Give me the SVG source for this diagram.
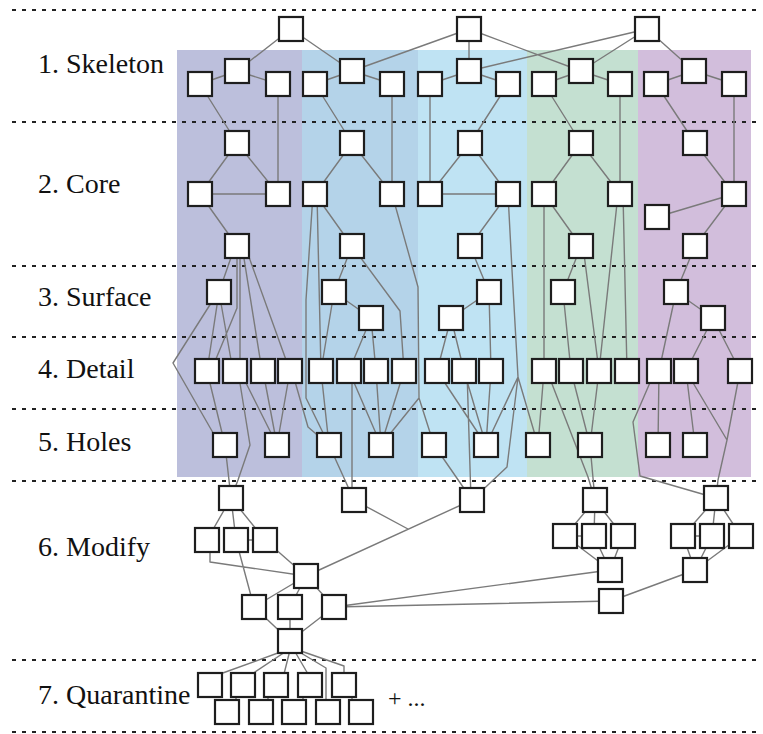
<svg xmlns="http://www.w3.org/2000/svg" width="763" height="734" viewBox="0 0 763 734">
<style>
.dash{stroke:#222;stroke-width:2;stroke-dasharray:4 6;fill:none}
#connectors path{stroke:#7a7a7a;stroke-width:1.4;fill:none;stroke-linejoin:round}
</style>
<defs>
<rect id="bx" x="-12" y="-12" width="24" height="24" fill="#ffffff" stroke="#1e1e1e" stroke-width="2.2"/>
</defs>
<rect width="763" height="734" fill="#fff"/>
<g id="bands">
<rect x="177" y="50" width="125" height="427" fill="#bcbfdc"/>
<rect x="302" y="50" width="116" height="427" fill="#b4d3e9"/>
<rect x="418" y="50" width="109" height="427" fill="#bfe3f3"/>
<rect x="527" y="50" width="111" height="427" fill="#c4e0d1"/>
<rect x="638" y="50" width="113" height="427" fill="#d2bedc"/>
</g>
<g id="separators">
<line class="dash" x1="12" y1="10" x2="760" y2="10"/>
<line class="dash" x1="12" y1="122" x2="760" y2="122"/>
<line class="dash" x1="12" y1="266" x2="760" y2="266"/>
<line class="dash" x1="12" y1="337" x2="760" y2="337"/>
<line class="dash" x1="12" y1="409" x2="760" y2="409"/>
<line class="dash" x1="12" y1="481" x2="760" y2="481"/>
<line class="dash" x1="12" y1="660" x2="760" y2="660"/>
<line class="dash" x1="12" y1="732" x2="760" y2="732"/>
</g>
<g id="labels" font-family="'Liberation Serif', 'Times New Roman', serif" font-size="28" fill="#111">
<text x="38" y="73">1. Skeleton</text>
<text x="38" y="193">2. Core</text>
<text x="38" y="306">3. Surface</text>
<text x="38" y="378">4. Detail</text>
<text x="38" y="451">5. Holes</text>
<text x="38" y="556">6. Modify</text>
<text x="38" y="704">7. Quarantine</text>
<text x="388" y="706" font-size="24">+ ...</text>
</g>
<g id="connectors">
<path d="M291,29 L237,71 M291,29 L352,71 M469,29 L352,71 M469,29 L469,71 M469,29 L581,71 M647,29 L469,71 M647,29 L581,71 M647,29 L694,71"/>
<path d="M237,71 L200,84 M237,71 L278,84 M352,71 L315,84 M352,71 L392,84 M469,71 L430,84 M469,71 L508,84 M581,71 L544,84 M581,71 L620,84 M694,71 L656,84 M694,71 L734,84"/>
<path d="M200,84 L237,143 M278,84 L278,194 M315,84 L352,143 M392,84 L392,194 M508,84 L470,143 M430,84 L430,194 M544,84 L581,143 M620,84 L620,194 M656,84 L695,143 M734,84 L734,194"/>
<path d="M237,143 L200,194 M237,143 L278,194 M200,194 L278,194 M200,194 L237,246 M352,143 L315,194 M352,143 L392,194 M315,194 L352,246 M470,143 L430,194 M470,143 L508,194 M430,194 L508,194 M508,194 L470,246 M581,143 L544,194 M581,143 L620,194 M544,194 L581,246 M695,143 L734,194 M734,194 L657,217 M734,194 L695,246"/>
<path d="M235,246 L219,292 M237,246 L237,308 L211,371 M240,246 L240,371 M242,246 L262,371 M245,246 L290,371 M219,292 L207,371 M219,292 L233,371 M213,300 L173,363 L220,445 M207,371 L225,445 M238,371 L250,445 L238,480 L231,498 M240,371 L277,445 M263,371 L277,445 M290,371 L277,445 M292,371 L308,427 L329,445 M225,445 L231,498"/>
<path d="M313,194 L306,300 L306,398 L329,445 M317,194 L321,371 M352,246 L334,292 M352,246 L400,311 L404,371 M334,292 L371,318 M334,292 L321,371 M371,318 L349,371 M371,318 L376,371 M392,194 L418,287 L419,398 L434,445 M419,398 L381,445 M321,371 L329,445 M352,371 L352,500 M349,371 L381,445 M376,371 L381,445 M404,371 L381,445 M329,445 L354,500"/>
<path d="M470,246 L489,292 M489,292 L451,318 M489,292 L491,371 M451,318 L437,371 M451,318 L464,371 M508,194 L512,270 L518,377 L507,467 L472,500 M518,377 L486,445 M518,377 L538,445 M437,371 L486,445 M464,371 L486,445 M467,371 L471,500 M491,371 L486,445 M434,445 L472,500"/>
<path d="M544,194 L544,371 M581,246 L563,292 M583,246 L599,371 M618,194 L599,371 M623,194 L627,371 M563,292 L571,371 M544,371 L538,445 M547,371 L588,477 L595,500 M571,371 L590,445 M599,371 L590,445 M590,445 L595,500"/>
<path d="M695,246 L676,292 M676,292 L713,318 M676,292 L659,371 M713,318 L686,371 M713,318 L740,371 M659,371 L658,445 M655,371 L633,422 L640,476 L716,498 M686,371 L695,445 M686,371 L727,440 L718,480 L716,498 M740,371 L727,440"/>
<path d="M231,498 L207,540 M231,498 L236,540 M231,498 L265,540 M236,540 L265,540 M210,540 L210,562 L306,576 M236,540 L254,607 M265,540 L306,576 M306,576 L254,607 M306,576 L290,607 M306,576 L334,607 M306,576 L472,500 M354,500 L408,529 M254,607 L290,641 M290,607 L290,641 M334,607 L290,641 M334,607 L610,570 M334,607 L611,601"/>
<path d="M595,500 L565,536 M595,500 L594,536 M595,500 L623,536 M565,536 L594,536 M565,536 L610,570 M594,536 L610,570 M623,536 L610,570 M716,498 L683,536 M716,498 L712,536 M716,498 L741,536 M683,536 L712,536 M683,536 L695,570 M712,536 L695,570 M741,536 L695,570 M611,601 L695,570"/>
<path d="M286,650 L220,674 M288,650 L252,674 M290,650 L284,674 M294,650 L308,674 M296,650 L326,668 L326,712 M298,650 L344,666 L344,685 M236,685 L236,712 M268,685 L268,712 M303,685 L303,712 M352,685 L352,712"/>
</g>
<g id="nodes">
<g id="t1"><use href="#bx" x="291" y="29"/></g>
<g id="t2"><use href="#bx" x="469" y="29"/></g>
<g id="t3"><use href="#bx" x="647" y="29"/></g>
<g id="sk1a"><use href="#bx" x="200" y="84"/></g>
<g id="sk1b"><use href="#bx" x="237" y="71"/></g>
<g id="sk1c"><use href="#bx" x="278" y="84"/></g>
<g id="sk2a"><use href="#bx" x="315" y="84"/></g>
<g id="sk2b"><use href="#bx" x="352" y="71"/></g>
<g id="sk2c"><use href="#bx" x="392" y="84"/></g>
<g id="sk3a"><use href="#bx" x="430" y="84"/></g>
<g id="sk3b"><use href="#bx" x="469" y="71"/></g>
<g id="sk3c"><use href="#bx" x="508" y="84"/></g>
<g id="sk4a"><use href="#bx" x="544" y="84"/></g>
<g id="sk4b"><use href="#bx" x="581" y="71"/></g>
<g id="sk4c"><use href="#bx" x="620" y="84"/></g>
<g id="sk5a"><use href="#bx" x="656" y="84"/></g>
<g id="sk5b"><use href="#bx" x="694" y="71"/></g>
<g id="sk5c"><use href="#bx" x="734" y="84"/></g>
<g id="c1t"><use href="#bx" x="237" y="143"/></g>
<g id="c1l"><use href="#bx" x="200" y="194"/></g>
<g id="c1r"><use href="#bx" x="278" y="194"/></g>
<g id="c1b"><use href="#bx" x="237" y="246"/></g>
<g id="c2t"><use href="#bx" x="352" y="143"/></g>
<g id="c2l"><use href="#bx" x="315" y="194"/></g>
<g id="c2r"><use href="#bx" x="392" y="194"/></g>
<g id="c2b"><use href="#bx" x="352" y="246"/></g>
<g id="c3t"><use href="#bx" x="470" y="143"/></g>
<g id="c3l"><use href="#bx" x="430" y="194"/></g>
<g id="c3r"><use href="#bx" x="508" y="194"/></g>
<g id="c3b"><use href="#bx" x="470" y="246"/></g>
<g id="c4t"><use href="#bx" x="581" y="143"/></g>
<g id="c4l"><use href="#bx" x="544" y="194"/></g>
<g id="c4r"><use href="#bx" x="620" y="194"/></g>
<g id="c4b"><use href="#bx" x="581" y="246"/></g>
<g id="c5t"><use href="#bx" x="695" y="143"/></g>
<g id="c5r"><use href="#bx" x="734" y="194"/></g>
<g id="c5l"><use href="#bx" x="657" y="217"/></g>
<g id="c5b"><use href="#bx" x="695" y="246"/></g>
<g id="sa"><use href="#bx" x="219" y="292"/></g>
<g id="sb"><use href="#bx" x="334" y="292"/></g>
<g id="sc"><use href="#bx" x="371" y="318"/></g>
<g id="sd"><use href="#bx" x="451" y="318"/></g>
<g id="se"><use href="#bx" x="489" y="292"/></g>
<g id="sf"><use href="#bx" x="563" y="292"/></g>
<g id="sg"><use href="#bx" x="676" y="292"/></g>
<g id="sh"><use href="#bx" x="713" y="318"/></g>
<g id="d1"><use href="#bx" x="207" y="371"/></g>
<g id="d2"><use href="#bx" x="235" y="371"/></g>
<g id="d3"><use href="#bx" x="263" y="371"/></g>
<g id="d4"><use href="#bx" x="290" y="371"/></g>
<g id="d5"><use href="#bx" x="321" y="371"/></g>
<g id="d6"><use href="#bx" x="349" y="371"/></g>
<g id="d7"><use href="#bx" x="376" y="371"/></g>
<g id="d8"><use href="#bx" x="404" y="371"/></g>
<g id="d9"><use href="#bx" x="437" y="371"/></g>
<g id="d10"><use href="#bx" x="464" y="371"/></g>
<g id="d11"><use href="#bx" x="491" y="371"/></g>
<g id="d12"><use href="#bx" x="544" y="371"/></g>
<g id="d13"><use href="#bx" x="571" y="371"/></g>
<g id="d14"><use href="#bx" x="599" y="371"/></g>
<g id="d15"><use href="#bx" x="627" y="371"/></g>
<g id="d16"><use href="#bx" x="659" y="371"/></g>
<g id="d17"><use href="#bx" x="686" y="371"/></g>
<g id="d18"><use href="#bx" x="740" y="371"/></g>
<g id="h1"><use href="#bx" x="225" y="445"/></g>
<g id="h2"><use href="#bx" x="277" y="445"/></g>
<g id="h3"><use href="#bx" x="329" y="445"/></g>
<g id="h4"><use href="#bx" x="381" y="445"/></g>
<g id="h5"><use href="#bx" x="434" y="445"/></g>
<g id="h6"><use href="#bx" x="486" y="445"/></g>
<g id="h7"><use href="#bx" x="538" y="445"/></g>
<g id="h8"><use href="#bx" x="590" y="445"/></g>
<g id="h9"><use href="#bx" x="658" y="445"/></g>
<g id="h10"><use href="#bx" x="695" y="445"/></g>
<g id="m1"><use href="#bx" x="231" y="498"/></g>
<g id="m2"><use href="#bx" x="354" y="500"/></g>
<g id="m3"><use href="#bx" x="472" y="500"/></g>
<g id="m4"><use href="#bx" x="595" y="500"/></g>
<g id="m5"><use href="#bx" x="716" y="498"/></g>
<g id="m1a"><use href="#bx" x="207" y="540"/></g>
<g id="m1b"><use href="#bx" x="236" y="540"/></g>
<g id="m1c"><use href="#bx" x="265" y="540"/></g>
<g id="mn"><use href="#bx" x="306" y="576"/></g>
<g id="p1"><use href="#bx" x="254" y="607"/></g>
<g id="p2"><use href="#bx" x="290" y="607"/></g>
<g id="p3"><use href="#bx" x="334" y="607"/></g>
<g id="q"><use href="#bx" x="290" y="641"/></g>
<g id="m4a"><use href="#bx" x="565" y="536"/></g>
<g id="m4b"><use href="#bx" x="594" y="536"/></g>
<g id="m4c"><use href="#bx" x="623" y="536"/></g>
<g id="m4d"><use href="#bx" x="610" y="570"/></g>
<g id="r"><use href="#bx" x="611" y="601"/></g>
<g id="m5a"><use href="#bx" x="683" y="536"/></g>
<g id="m5b"><use href="#bx" x="712" y="536"/></g>
<g id="m5c"><use href="#bx" x="741" y="536"/></g>
<g id="m5d"><use href="#bx" x="695" y="570"/></g>
<g id="qa1"><use href="#bx" x="210" y="685"/></g>
<g id="qa2"><use href="#bx" x="243" y="685"/></g>
<g id="qa3"><use href="#bx" x="276" y="685"/></g>
<g id="qa4"><use href="#bx" x="310" y="685"/></g>
<g id="qa5"><use href="#bx" x="344" y="685"/></g>
<g id="qb1"><use href="#bx" x="227" y="712"/></g>
<g id="qb2"><use href="#bx" x="261" y="712"/></g>
<g id="qb3"><use href="#bx" x="294" y="712"/></g>
<g id="qb4"><use href="#bx" x="328" y="712"/></g>
<g id="qb5"><use href="#bx" x="361" y="712"/></g>
</g>
</svg>
